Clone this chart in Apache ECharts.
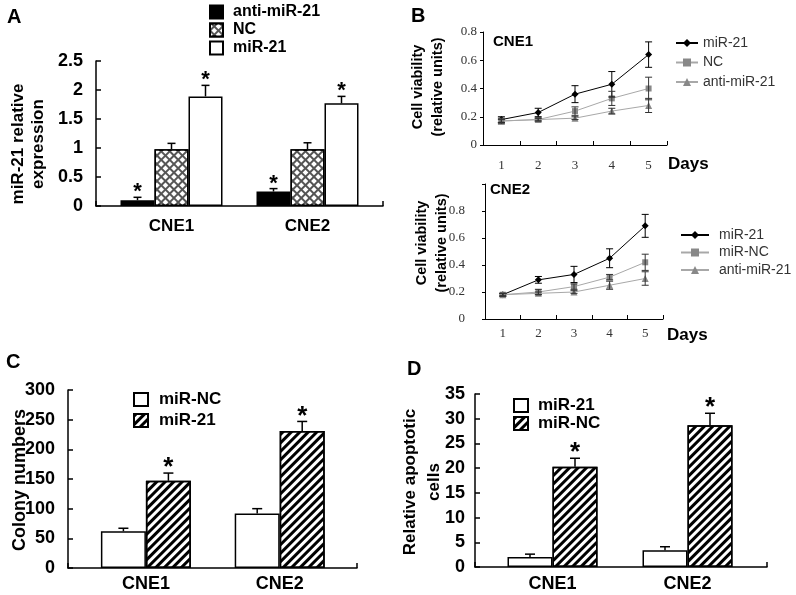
<!DOCTYPE html>
<html>
<head>
<meta charset="utf-8">
<script src="https://cdn.jsdelivr.net/npm/echarts@6/dist/echarts.min.js"></script>
<style>html,body{margin:0;padding:0;background:#fff}#c{width:796px;height:595px}</style>
</head>
<body>
<div id="c"></div>
<script>
// ---------- data ----------
const cellLines = ['CNE1', 'CNE2'];
const days = ['1', '2', '3', '4', '5'];

// Panel A: miR-21 relative expression
const aAnti = [0.10, 0.25], aAntiErr = [0.05, 0.05], aAntiStar = [1, 1];
const aNC = [0.98, 0.98], aNCErr = [0.10, 0.11], aNCStar = [0, 0];
const aMiR = [1.89, 1.77], aMiRErr = [0.19, 0.12], aMiRStar = [1, 1];
const aTicks = [0, 0.5, 1, 1.5, 2, 2.5];

// Panel B (CNE1): cell viability
const b1MiR = [0.18, 0.23, 0.36, 0.43, 0.64], b1MiRErr = [0.02, 0.03, 0.06, 0.09, 0.09];
const b1NC = [0.17, 0.18, 0.24, 0.33, 0.40], b1NCErr = [0.02, 0.01, 0.03, 0.05, 0.08];
const b1Anti = [0.17, 0.18, 0.19, 0.24, 0.28], b1AntiErr = [0.01, 0.01, 0.01, 0.02, 0.05];
// Panel B (CNE2)
const b2MiR = [0.18, 0.29, 0.33, 0.45, 0.69], b2MiRErr = [0.01, 0.025, 0.06, 0.07, 0.085];
const b2NC = [0.18, 0.20, 0.24, 0.31, 0.42], b2NCErr = [0.01, 0.02, 0.02, 0.02, 0.06];
const b2Anti = [0.18, 0.19, 0.20, 0.25, 0.30], b2AntiErr = [0.01, 0.01, 0.01, 0.03, 0.05];

// Panel C: colony numbers
const cNC = [62, 92], cNCErr = [5, 8], cNCStar = [0, 0];
const cMiR = [147, 231], cMiRErr = [13, 16], cMiRStar = [1, 1];

// Panel D: relative apoptotic cells
const dMiR = [2.0, 3.4], dMiRErr = [0.6, 0.7], dMiRStar = [0, 0];
const dNC = [20.3, 28.7], dNCErr = [1.7, 2.4], dNCStar = [1, 1];

// ---------- helpers ----------
const SANS = 'Liberation Sans';
const SERIF = 'Liberation Serif';
const hatch = {symbol: 'rect', symbolSize: 1, dashArrayX: [1, 0], dashArrayY: [2.2, 2.2], rotation: -Math.PI / 4, color: '#000'};
const cross = {symbol: 'rect', symbolSize: 1, dashArrayX: [3.6, 1.2], dashArrayY: [3.6, 1.2], rotation: Math.PI / 4, color: '#fff'};
const strip = n => n.split('|')[1];

function errData(vals, errs, stars) {
  return vals.map((v, i) => [i, v, errs[i], stars ? stars[i] : 0]);
}
function errSeries(name, axisIdx, vals, errs, stars, opt) {
  return {
    type: 'custom', name: name, xAxisIndex: axisIdx, yAxisIndex: axisIdx, z: 5,
    encode: {x: 0, y: 1}, silent: true,
    data: errData(vals, errs, stars),
    renderItem: function (params, api) {
      const i = api.value(0), v = api.value(1), e = api.value(2), s = api.value(3);
      const base = api.coord([i, v]);
      const hi = api.coord([i, v + e]);
      const x = base[0] + opt.offset;
      const st = {stroke: opt.color, lineWidth: opt.lw};
      const ch = [];
      if (opt.both) {
        const lo = api.coord([i, v - e]);
        ch.push({type: 'line', shape: {x1: x, y1: lo[1], x2: x, y2: hi[1]}, style: st});
        ch.push({type: 'line', shape: {x1: x - opt.cap, y1: lo[1], x2: x + opt.cap, y2: lo[1]}, style: st});
      } else {
        ch.push({type: 'line', shape: {x1: x, y1: base[1], x2: x, y2: hi[1]}, style: st});
      }
      ch.push({type: 'line', shape: {x1: x - opt.cap, y1: hi[1], x2: x + opt.cap, y2: hi[1]}, style: st});
      if (s) {
        ch.push({type: 'text', x: x, y: hi[1] - opt.starGap,
          style: {text: '*', fontFamily: SANS, fontWeight: 'bold', fontSize: opt.starSize, fill: '#000', textAlign: 'center', textVerticalAlign: 'middle'}});
      }
      return {type: 'group', children: ch};
    }
  };
}
function barSeries(name, axisIdx, vals, fill, decal, width) {
  return {
    type: 'bar', name: name, xAxisIndex: axisIdx, yAxisIndex: axisIdx,
    data: vals, barWidth: width, barGap: '0%',
    itemStyle: {color: fill, borderColor: '#000', borderWidth: 1.5, decal: decal || null}
  };
}
function lineSeries(name, axisIdx, vals, lineColor, markColor, symbol, size) {
  return {
    type: 'line', name: name, xAxisIndex: axisIdx, yAxisIndex: axisIdx,
    data: vals, symbol: symbol, symbolSize: size, showSymbol: true,
    lineStyle: {color: lineColor, width: 1}, itemStyle: {color: markColor}, z: 3
  };
}

const blackLine = {show: true, lineStyle: {color: '#000', width: 1.5}};
const boldLabel = (size, margin) => ({fontFamily: SANS, fontWeight: 'bold', fontSize: size, color: '#000', margin: margin});
const hiddenY = (max) => ({type: 'value', min: 0, max: max, show: false});

// ---------- option ----------
const option = {
  animation: false,
  backgroundColor: '#fff',
  grid: [
    {left: 96, top: 61, width: 287, height: 145},      // 0 A frame
    {left: 103.5, top: 61, width: 272, height: 145},   // 1 A data
    {left: 483, top: 32, width: 184, height: 113},     // 2 B top
    {left: 485, top: 184, width: 178, height: 135},    // 3 B bottom
    {left: 68, top: 390, width: 289, height: 178},     // 4 C frame
    {left: 79, top: 390, width: 267.6, height: 178},   // 5 C data
    {left: 475, top: 394, width: 292, height: 173},    // 6 D frame
    {left: 485, top: 394, width: 270, height: 173}     // 7 D data
  ],
  xAxis: [
    {gridIndex: 0, type: 'value', min: 0, max: 1, interval: 1, axisLine: blackLine,
      axisTick: {show: true, inside: true, length: 5, lineStyle: {color: '#000', width: 1.5}}, axisLabel: {show: false}, splitLine: {show: false}},
    {gridIndex: 1, type: 'category', data: cellLines, axisLine: {show: false}, axisTick: {show: false},
      axisLabel: boldLabel(17, 12)},
    {gridIndex: 2, type: 'category', data: days, axisLine: {show: true, lineStyle: {color: '#000', width: 1}},
      axisTick: {show: true, inside: true, length: 4, lineStyle: {color: '#000'}},
      axisLabel: {fontFamily: SERIF, fontSize: 13, color: '#333', margin: 14}},
    {gridIndex: 3, type: 'category', data: days, axisLine: {show: true, lineStyle: {color: '#000', width: 1}},
      axisTick: {show: true, inside: true, length: 4, lineStyle: {color: '#000'}},
      axisLabel: {fontFamily: SERIF, fontSize: 13, color: '#333', margin: 8}},
    {gridIndex: 4, type: 'value', min: 0, max: 1, interval: 1, axisLine: blackLine,
      axisTick: {show: true, inside: true, length: 5, lineStyle: {color: '#000', width: 1.5}}, axisLabel: {show: false}, splitLine: {show: false}},
    {gridIndex: 5, type: 'category', data: cellLines, axisLine: {show: false}, axisTick: {show: false},
      axisLabel: boldLabel(18, 7)},
    {gridIndex: 6, type: 'value', min: 0, max: 1, interval: 1, axisLine: blackLine,
      axisTick: {show: true, inside: true, length: 5, lineStyle: {color: '#000', width: 1.5}}, axisLabel: {show: false}, splitLine: {show: false}},
    {gridIndex: 7, type: 'category', data: cellLines, axisLine: {show: false}, axisTick: {show: false},
      axisLabel: boldLabel(18, 8)}
  ],
  yAxis: [
    {gridIndex: 0, type: 'value', min: 0, max: 2.5, interval: 0.5, axisLine: blackLine,
      axisTick: {show: true, inside: true, length: 5, lineStyle: {color: '#000', width: 1.5}},
      axisLabel: boldLabel(18, 13), splitLine: {show: false}},
    Object.assign({gridIndex: 1}, hiddenY(2.5)),
    {gridIndex: 2, type: 'value', min: 0, max: 0.8, interval: 0.2,
      axisLine: {show: true, lineStyle: {color: '#000', width: 1}},
      axisTick: {show: true, inside: false, length: 3, lineStyle: {color: '#000'}},
      axisLabel: {fontFamily: SERIF, fontSize: 13, color: '#333', margin: 6}, splitLine: {show: false}},
    {gridIndex: 3, type: 'value', min: 0, max: 1, interval: 0.2,
      axisLine: {show: true, lineStyle: {color: '#000', width: 1}},
      axisTick: {show: true, inside: false, length: 3, lineStyle: {color: '#000'}},
      axisLabel: {fontFamily: SERIF, fontSize: 13, color: '#333', margin: 20, formatter: v => (v >= 1 ? '' : String(v))},
      splitLine: {show: false}},
    {gridIndex: 4, type: 'value', min: 0, max: 300, interval: 50, axisLine: blackLine,
      axisTick: {show: true, inside: true, length: 5, lineStyle: {color: '#000', width: 1.5}},
      axisLabel: boldLabel(18, 13), splitLine: {show: false}},
    Object.assign({gridIndex: 5}, hiddenY(300)),
    {gridIndex: 6, type: 'value', min: 0, max: 35, interval: 5, axisLine: blackLine,
      axisTick: {show: true, inside: true, length: 5, lineStyle: {color: '#000', width: 1.5}},
      axisLabel: boldLabel(18, 10), splitLine: {show: false}},
    Object.assign({gridIndex: 7}, hiddenY(35))
  ],
  legend: [
    {data: ['A|anti-miR-21', 'A|NC', 'A|miR-21'], left: 209, top: 4, orient: 'vertical', padding: 0,
      icon: 'rect', itemWidth: 13, itemHeight: 13, itemGap: 2, formatter: strip, selectedMode: false,
      textStyle: {fontFamily: SANS, fontWeight: 'bold', fontSize: 16, color: '#000', padding: [0, 0, 0, 5]}},
    {data: ['B1|miR-21', 'B1|NC', 'B1|anti-miR-21'], left: 675, top: 36, orient: 'vertical', padding: 0,
      itemWidth: 22, itemHeight: 10, itemGap: 5.5, formatter: strip, selectedMode: false,
      textStyle: {fontFamily: SANS, fontSize: 14, color: '#333'}},
    {data: ['B2|miR-21', 'B2|miR-NC', 'B2|anti-miR-21'], left: 680, top: 228, orient: 'vertical', padding: 0,
      itemWidth: 28, itemHeight: 10, itemGap: 3.5, formatter: strip, selectedMode: false,
      textStyle: {fontFamily: SANS, fontSize: 14, color: '#333', padding: [0, 0, 0, 5]}},
    {data: ['C|miR-NC', 'C|miR-21'], left: 133, top: 391, orient: 'vertical', padding: 0,
      icon: 'rect', itemWidth: 14, itemHeight: 13, itemGap: 4, formatter: strip, selectedMode: false,
      textStyle: {fontFamily: SANS, fontWeight: 'bold', fontSize: 17, color: '#000', padding: [0, 0, 0, 6]}},
    {data: ['D|miR-21', 'D|miR-NC'], left: 513, top: 397, orient: 'vertical', padding: 0,
      icon: 'rect', itemWidth: 14, itemHeight: 13, itemGap: 1, formatter: strip, selectedMode: false,
      textStyle: {fontFamily: SANS, fontWeight: 'bold', fontSize: 17, color: '#000', padding: [0, 0, 0, 5]}}
  ],
  series: [
    barSeries('A|anti-miR-21', 1, aAnti, '#000', null, 34),
    barSeries('A|NC', 1, aNC, '#555', cross, 34),
    barSeries('A|miR-21', 1, aMiR, '#fff', null, 34),
    errSeries('eA0', 1, aAnti, aAntiErr, aAntiStar, {offset: -34, cap: 4, both: false, color: '#000', lw: 1.5, starSize: 22, starGap: 5}),
    errSeries('eA1', 1, aNC, aNCErr, aNCStar, {offset: 0, cap: 4, both: false, color: '#000', lw: 1.5, starSize: 22, starGap: 5}),
    errSeries('eA2', 1, aMiR, aMiRErr, aMiRStar, {offset: 34, cap: 4, both: false, color: '#000', lw: 1.5, starSize: 22, starGap: 5}),

    lineSeries('B1|miR-21', 2, b1MiR, '#000', '#000', 'diamond', 7),
    lineSeries('B1|NC', 2, b1NC, '#a8a8a8', '#888', 'rect', 6),
    lineSeries('B1|anti-miR-21', 2, b1Anti, '#a8a8a8', '#888', 'triangle', 7),
    errSeries('eB10', 2, b1MiR, b1MiRErr, null, {offset: 0, cap: 3.5, both: true, color: '#000', lw: 1}),
    errSeries('eB11', 2, b1NC, b1NCErr, null, {offset: 0, cap: 3.5, both: true, color: '#333', lw: 1}),
    errSeries('eB12', 2, b1Anti, b1AntiErr, null, {offset: 0, cap: 3.5, both: true, color: '#333', lw: 1}),

    lineSeries('B2|miR-21', 3, b2MiR, '#000', '#000', 'diamond', 7),
    lineSeries('B2|miR-NC', 3, b2NC, '#a8a8a8', '#888', 'rect', 6),
    lineSeries('B2|anti-miR-21', 3, b2Anti, '#a8a8a8', '#888', 'triangle', 7),
    errSeries('eB20', 3, b2MiR, b2MiRErr, null, {offset: 0, cap: 3.5, both: true, color: '#000', lw: 1}),
    errSeries('eB21', 3, b2NC, b2NCErr, null, {offset: 0, cap: 3.5, both: true, color: '#333', lw: 1}),
    errSeries('eB22', 3, b2Anti, b2AntiErr, null, {offset: 0, cap: 3.5, both: true, color: '#333', lw: 1}),

    barSeries('C|miR-NC', 5, cNC, '#fff', null, 45),
    barSeries('C|miR-21', 5, cMiR, '#fff', hatch, 45),
    errSeries('eC0', 5, cNC, cNCErr, cNCStar, {offset: -22.5, cap: 5, both: false, color: '#000', lw: 1.5, starSize: 26, starGap: 5}),
    errSeries('eC1', 5, cMiR, cMiRErr, cMiRStar, {offset: 22.5, cap: 5, both: false, color: '#000', lw: 1.5, starSize: 26, starGap: 5}),

    barSeries('D|miR-21', 7, dMiR, '#fff', null, 45),
    barSeries('D|miR-NC', 7, dNC, '#fff', hatch, 45),
    errSeries('eD0', 7, dMiR, dMiRErr, dMiRStar, {offset: -22.5, cap: 5, both: false, color: '#000', lw: 1.5, starSize: 26, starGap: 5}),
    errSeries('eD1', 7, dNC, dNCErr, dNCStar, {offset: 22.5, cap: 5, both: false, color: '#000', lw: 1.5, starSize: 26, starGap: 5})
  ],
  graphic: [
    {type: 'text', x: 7, y: 17, style: {text: 'A', fontFamily: SANS, fontWeight: 'bold', fontSize: 20, fill: '#000', textVerticalAlign: 'middle'}},
    {type: 'text', x: 411, y: 16, style: {text: 'B', fontFamily: SANS, fontWeight: 'bold', fontSize: 20, fill: '#000', textVerticalAlign: 'middle'}},
    {type: 'text', x: 6, y: 362, style: {text: 'C', fontFamily: SANS, fontWeight: 'bold', fontSize: 20, fill: '#000', textVerticalAlign: 'middle'}},
    {type: 'text', x: 407, y: 369, style: {text: 'D', fontFamily: SANS, fontWeight: 'bold', fontSize: 20, fill: '#000', textVerticalAlign: 'middle'}},
    {type: 'text', x: 28, y: 144, rotation: Math.PI / 2,
      style: {text: 'miR-21 relative\nexpression', fontFamily: SANS, fontWeight: 'bold', fontSize: 17, lineHeight: 20, fill: '#000', textAlign: 'center', textVerticalAlign: 'middle'}},
    {type: 'text', x: 428, y: 87, rotation: Math.PI / 2,
      style: {text: 'Cell viability\n(relative units)', fontFamily: SANS, fontWeight: 'bold', fontSize: 14.5, lineHeight: 20, fill: '#000', textAlign: 'center', textVerticalAlign: 'middle'}},
    {type: 'text', x: 432, y: 243, rotation: Math.PI / 2,
      style: {text: 'Cell viability\n(relative units)', fontFamily: SANS, fontWeight: 'bold', fontSize: 14.5, lineHeight: 20, fill: '#000', textAlign: 'center', textVerticalAlign: 'middle'}},
    {type: 'text', x: 20, y: 480, rotation: Math.PI / 2,
      style: {text: 'Colony numbers', fontFamily: SANS, fontWeight: 'bold', fontSize: 18, fill: '#000', textAlign: 'center', textVerticalAlign: 'middle'}},
    {type: 'text', x: 422, y: 482, rotation: Math.PI / 2,
      style: {text: 'Relative apoptotic\ncells', fontFamily: SANS, fontWeight: 'bold', fontSize: 17, lineHeight: 24, fill: '#000', textAlign: 'center', textVerticalAlign: 'middle'}},
    {type: 'text', x: 493, y: 42, style: {text: 'CNE1', fontFamily: SANS, fontWeight: 'bold', fontSize: 15, fill: '#000', textVerticalAlign: 'middle'}},
    {type: 'text', x: 490, y: 190, style: {text: 'CNE2', fontFamily: SANS, fontWeight: 'bold', fontSize: 15, fill: '#000', textVerticalAlign: 'middle'}},
    {type: 'text', x: 668, y: 164, style: {text: 'Days', fontFamily: SANS, fontWeight: 'bold', fontSize: 17, fill: '#000', textVerticalAlign: 'middle'}},
    {type: 'text', x: 667, y: 335, style: {text: 'Days', fontFamily: SANS, fontWeight: 'bold', fontSize: 17, fill: '#000', textVerticalAlign: 'middle'}}
  ]
};

const chart = echarts.init(document.getElementById('c'), null, {renderer: 'canvas'});
chart.setOption(option);
</script>
</body>
</html>
